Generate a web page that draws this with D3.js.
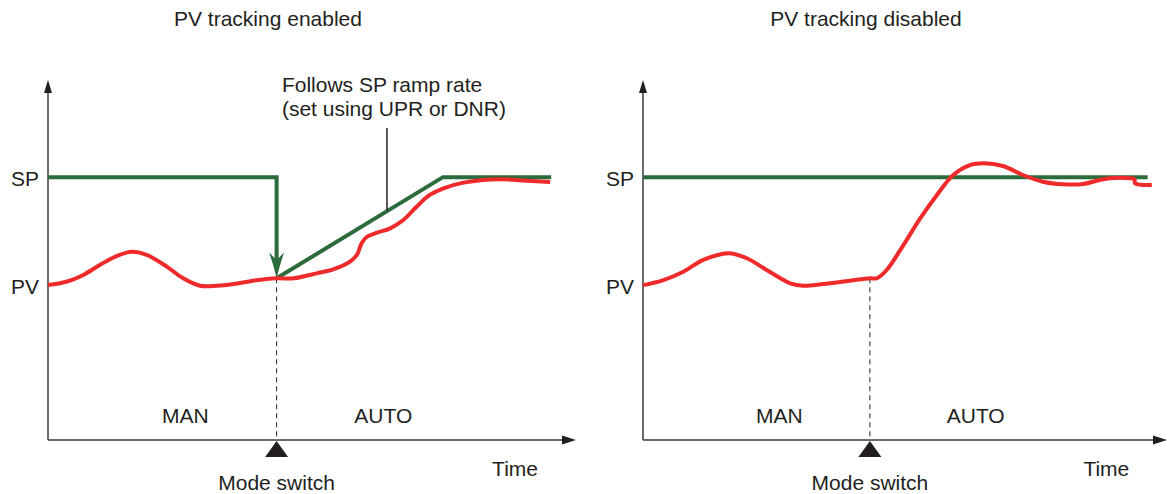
<!DOCTYPE html>
<html>
<head>
<meta charset="utf-8">
<script src="https://cdn.jsdelivr.net/npm/d3@7"></script>
<style>
  html, body { margin: 0; padding: 0; background: #ffffff; }
  svg { display: block; }
  text { font-family: "Liberation Sans", Arial, Helvetica, sans-serif; fill: #231f20; }
</style>
</head>
<body>
<svg id="chart" width="1168" height="494"></svg>
<script>
// ---------- data (time in % of panel span, value in % where PV=0, SP=100) ----------
const panelTitles = ["PV tracking enabled", "PV tracking disabled"];
const levelTicks = [100, 0];
const levelLabels = ["SP", "PV"];
const modeLabels = ["MAN", "AUTO"];
const switchTime = 43.3;

// Left panel: PV tracking enabled
const pvTimeL = [0, 3.5, 6.7, 9.8, 13.0, 15.9, 18.7, 22.5, 25.6, 28.8, 32.0, 35.1, 38.9, 43.3,
                 46.5, 50.9, 54.0, 57.2, 58.5, 59.4, 60.4, 62.3, 64.8, 67.3, 69.8, 72.3, 74.9,
                 78.7, 82.4, 86.2, 90.7, 95.1];
const pvValueL = [0, 3.1, 9.4, 18.6, 26.9, 30.9, 27.9, 17.1, 6.3, -0.6, -0.6, 1.0, 4.1, 6.3,
                  6.3, 10.9, 14.6, 21.7, 27.9, 38.7, 44.8, 48.5, 52.6, 60.3, 72.6, 83.5, 89.7,
                  94.9, 97.4, 98.0, 96.7, 95.5];
const spStepTimeL = [0, 43.3, 43.3];
const spStepValueL = [100, 100, 20];
const spRampTimeL = [43.3, 74.8, 95.3];
const spRampValueL = [6.3, 100, 100];
const arrowTipValueL = 6.3;
const noteLines = ["Follows SP ramp rate", "(set using UPR or DNR)"];
const noteLeaderTime = 64.2;
const noteLeaderValues = [145.5, 68.6];

// Right panel: PV tracking disabled
const pvTimeR = [0, 3.9, 7.7, 11.5, 16.3, 19.8, 23.6, 28.1, 30.6, 34.4, 39.5, 43.3,
                 44.6, 46.5, 49.7, 52.9, 56.1, 59.2, 62.4, 65.0, 68.7, 72.5, 76.3, 80.2,
                 84.0, 87.2, 89.1, 92.9, 93.8, 93.9, 97.1];
const pvValueR = [0, 4.7, 12.4, 23.3, 29.5, 24.9, 14.0, 1.7, -0.6, 1.0, 4.1, 6.3,
                  6.3, 14.0, 37.1, 61.8, 83.5, 102.0, 111.2, 112.8, 110.3, 102.0, 95.8, 93.4,
                  93.7, 97.4, 99.0, 99.0, 98.0, 94.3, 92.7];
const spTimeR = [0, 96.3];
const spValueR = [100, 100];

// ---------- layout ----------
const svg = d3.select("#chart");
const green = "#2c6b3b", red = "#ee2a2a", axisCol = "#3a3a3a";
const FS = 21;

const y = d3.scaleLinear().domain([-143.5, 190]).range([440, 80]);
const panels = [
  { x: d3.scaleLinear().domain([0, 100]).range([48, 576]), title: panelTitles[0], titleX: 268 },
  { x: d3.scaleLinear().domain([0, 100]).range([643, 1167]), title: panelTitles[1], titleX: 866 }
];

const line = (x) => d3.line().x(d => x(d[0])).y(d => y(d[1])).curve(d3.curveCatmullRom.alpha(0.5));
const lineStraight = (x) => d3.line().x(d => x(d[0])).y(d => y(d[1]));
const zip = (a, b) => a.map((v, i) => [v, b[i]]);

panels.forEach((p, pi) => {
  const g = svg.append("g");
  const x = p.x;
  const x0 = x(0), x1 = x(100), yb = y(-143.5), yt = y(190);

  // title
  g.append("text").attr("x", p.titleX).attr("y", 26).attr("text-anchor", "middle")
    .attr("font-size", FS).text(p.title);

  // axes lines with arrowheads
  g.append("line").attr("x1", x0).attr("x2", x0).attr("y1", yb).attr("y2", yt + 10)
    .attr("stroke", axisCol).attr("stroke-width", 1.5);
  g.append("path").attr("d", `M${x0},${yt} L${x0 - 4},${yt + 13} L${x0 + 4},${yt + 13} Z`)
    .attr("fill", "#231f20");
  g.append("line").attr("x1", x0).attr("x2", x1 - 10).attr("y1", yb).attr("y2", yb)
    .attr("stroke", axisCol).attr("stroke-width", 1.5);
  g.append("path").attr("d", `M${x1},${yb} L${x1 - 14},${yb - 4.5} L${x1 - 14},${yb + 4.5} Z`)
    .attr("fill", "#231f20");

  // level labels via axis
  const ax = d3.axisLeft(y).tickValues(levelTicks)
    .tickFormat((d, i) => levelLabels[i]).tickSize(0).tickPadding(9);
  const axg = g.append("g").attr("transform", `translate(${x0},0)`).call(ax);
  axg.select(".domain").remove();
  axg.selectAll("text").attr("font-size", FS).attr("font-family", "Liberation Sans, Arial, sans-serif")
    .attr("fill", "#231f20").attr("dy", "0.42em");

  // mode switch dashed line
  const xs = x(switchTime);
  g.append("line").attr("x1", xs).attr("x2", xs).attr("y1", y(6.3)).attr("y2", yb)
    .attr("stroke", "#231f20").attr("stroke-width", 1).attr("stroke-dasharray", "5,4");
  // triangle marker
  g.append("path").attr("d", `M${xs},${yb + 1} L${xs - 11.5},${yb + 17} L${xs + 11.5},${yb + 17} Z`)
    .attr("fill", "#231f20");

  // texts
  g.append("text").attr("x", x(26)).attr("y", 423).attr("text-anchor", "middle").attr("font-size", FS).text(modeLabels[0]);
  g.append("text").attr("x", x(63.5)).attr("y", 423).attr("text-anchor", "middle").attr("font-size", FS).text(modeLabels[1]);
  g.append("text").attr("x", x(92.8)).attr("y", 476).attr("text-anchor", "end").attr("font-size", FS).text("Time");
  g.append("text").attr("x", xs).attr("y", 490).attr("text-anchor", "middle").attr("font-size", FS).text("Mode switch");

  if (pi === 0) {
    // SP step and arrow
    g.append("path").attr("d", lineStraight(x)(zip(spStepTimeL, spStepValueL)))
      .attr("fill", "none").attr("stroke", green).attr("stroke-width", 4).attr("stroke-linejoin", "miter");
    const tipY = y(arrowTipValueL);
    g.append("path")
      .attr("d", `M${xs},${tipY} Q${xs - 3},${tipY - 13} ${xs - 7.5},${tipY - 26} L${xs},${tipY - 18} L${xs + 7.5},${tipY - 26} Q${xs + 3},${tipY - 13} ${xs},${tipY} Z`)
      .attr("fill", green);
    // SP ramp
    g.append("path").attr("d", lineStraight(x)(zip(spRampTimeL, spRampValueL)))
      .attr("fill", "none").attr("stroke", green).attr("stroke-width", 4).attr("stroke-linejoin", "miter");
    // PV
    g.append("path").attr("d", line(x)(zip(pvTimeL, pvValueL)))
      .attr("fill", "none").attr("stroke", red).attr("stroke-width", 4).attr("stroke-linecap", "butt");
    // annotation
    g.append("line").attr("x1", x(noteLeaderTime)).attr("x2", x(noteLeaderTime))
      .attr("y1", y(noteLeaderValues[0])).attr("y2", y(noteLeaderValues[1]))
      .attr("stroke", "#231f20").attr("stroke-width", 1.5);
    g.append("text").attr("x", x(44.3)).attr("y", 92).attr("font-size", FS).text(noteLines[0]);
    g.append("text").attr("x", x(44.3)).attr("y", 116).attr("font-size", FS).text(noteLines[1]);
  } else {
    g.append("path").attr("d", lineStraight(x)(zip(spTimeR, spValueR)))
      .attr("fill", "none").attr("stroke", green).attr("stroke-width", 4);
    g.append("path").attr("d", line(x)(zip(pvTimeR, pvValueR)))
      .attr("fill", "none").attr("stroke", red).attr("stroke-width", 4);
  }
});
</script>
</body>
</html>
